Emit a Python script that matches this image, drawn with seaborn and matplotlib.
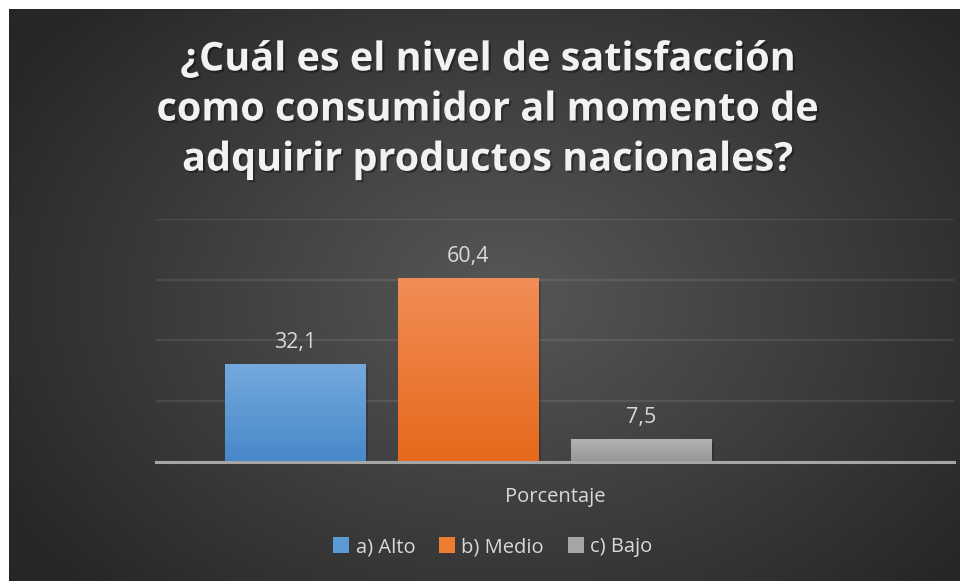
import numpy as np
import pandas as pd
import matplotlib.pyplot as plt
import seaborn as sns
from matplotlib import patheffects as pe
from matplotlib.patches import Patch
from matplotlib.colors import to_rgb

# data
series = ['a) Alto', 'b) Medio', 'c) Bajo', 'd)']   # 4th series is empty in the original
values = [32.1, 60.4, 7.5, 0.0]
value_labels = ['32,1', '60,4', '7,5']
category = 'Porcentaje'
title = ('¿Cuál es el nivel de satisfacción\n'
         'como consumidor al momento de\n'
         'adquirir productos nacionales?')

top_colors = ['#74aade', '#f28d57', '#b2b2b2']
bottom_colors = ['#4788c9', '#e5691b', '#979797']
mid_colors = ['#5b9bd5', '#ed7d31', '#a5a5a5']

df = pd.DataFrame({'cat': [category] * len(series), 'serie': series, 'valor': values})

sns.set_style('white')
plt.rcParams['font.family'] = ['Open Sans', 'DejaVu Sans']

fig = plt.figure(figsize=(9.6, 5.81), dpi=100, facecolor='white')

# dark radial background
bg = fig.add_axes([9 / 960, 0, 951 / 960, 572 / 581], zorder=-1)
h, w = 300, 500
yy, xx = np.mgrid[0:h, 0:w]
d = np.sqrt(((xx / w - 0.52) / 0.62) ** 2 + ((yy / h - 0.50) / 0.75) ** 2)
d = np.clip(d, 0, 1)
c_in, c_out = np.array(to_rgb('#575757')), np.array(to_rgb('#262626'))
img = c_in[None, None, :] * (1 - d[..., None]) + c_out[None, None, :] * d[..., None]
bg.imshow(img, aspect='auto', extent=[0, 1, 0, 1])
bg.set_axis_off()

ax = fig.add_axes([156 / 960, 1 - 462 / 581, 798 / 960, (462 - 219) / 581])
ax.set_facecolor('none')

sns.barplot(data=df, x='cat', y='valor', hue='serie', hue_order=series,
            palette=mid_colors + ['#000000'], width=0.868, gap=0.19,
            legend=False, linewidth=0, ax=ax, zorder=3)

ax.set_ylim(0, 80)
ax.set_xlim(-0.5, 0.5)
ax.set_yticks([0, 20, 40, 60, 80])
ax.yaxis.grid(True, color='#ffffff', alpha=0.09, lw=1.6, zorder=0)
ax.set_axisbelow(True)
ax.tick_params(axis='y', left=False, labelleft=False)
ax.tick_params(axis='x', length=0, pad=18, labelsize=14.5, colors='#d9d9d9')
ax.set_xlabel('')
ax.set_ylabel('')
for s in ['top', 'right', 'left']:
    ax.spines[s].set_visible(False)
ax.spines['bottom'].set_color('#a6a6a6')
ax.spines['bottom'].set_linewidth(2.2)
ax.spines['bottom'].set_zorder(5)

# gradient fills + value labels
bars = [p for p in ax.patches if p.get_height() > 0]
for i, (p, lab) in enumerate(zip(bars, value_labels)):
    x0, y0 = p.get_x(), p.get_y()
    bw, bh = p.get_width(), p.get_height()
    t = np.linspace(0, 1, 100)[:, None]
    ct, cb = np.array(to_rgb(top_colors[i])), np.array(to_rgb(bottom_colors[i]))
    grad = (ct * (1 - t) + cb * t)[:, None, :].repeat(2, axis=1)
    p.set_path_effects([pe.SimplePatchShadow(offset=(2, -2), shadow_rgbFace='black', alpha=0.18), pe.Normal()])
    ax.imshow(grad, extent=[x0, x0 + bw, y0, y0 + bh], aspect='auto', zorder=4)
    ax.annotate(lab, (x0 + bw / 2, y0 + bh), xytext=(0, 12), textcoords='offset points',
                ha='center', va='baseline', fontsize=15.5, color='#d9d9d9')
ax.set_xlim(-0.5, 0.5)
ax.set_ylim(0, 80)

# title
fig.text(488 / 960, 1 - 110 / 581, title, ha='center', va='center', fontsize=28.5,
         fontweight='bold', color='#f2f2f2', linespacing=1.37,
         path_effects=[pe.withSimplePatchShadow(offset=(1.5, -1.5), shadow_rgbFace='black', alpha=0.35)])

# legend (only the three visible series)
handles = [Patch(facecolor=c, edgecolor='none') for c in mid_colors]
fig.legend(handles, series[:3], loc='center', bbox_to_anchor=(493 / 960, 1 - 547 / 581),
           ncol=3, frameon=False, fontsize=14.5, labelcolor='#d9d9d9',
           handlelength=0.8, handleheight=0.8, handletextpad=0.3, columnspacing=1.2)

fig.savefig('out.png', dpi=100, facecolor='white')
